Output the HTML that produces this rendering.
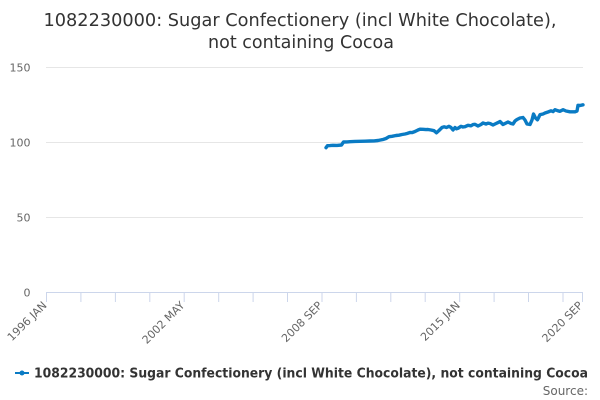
<!DOCTYPE html>
<html><head><meta charset="utf-8"><style>
html,body{margin:0;padding:0;background:#fff;}
svg{display:block;font-family:"DejaVu Sans","Liberation Sans",sans-serif;}
</style></head><body>
<svg width="600" height="400" viewBox="0 0 600 400" xmlns="http://www.w3.org/2000/svg">
<rect width="600" height="400" fill="#fff"/>
<text x="300" y="26" text-anchor="middle" font-size="18" fill="#333" textLength="513" lengthAdjust="spacingAndGlyphs">1082230000: Sugar Confectionery (incl White Chocolate),</text>
<text x="301" y="48" text-anchor="middle" font-size="18" fill="#333" textLength="186" lengthAdjust="spacingAndGlyphs">not containing Cocoa</text>
<g stroke="#e6e6e6" stroke-width="1">
<line x1="46" y1="67.5" x2="583" y2="67.5"/>
<line x1="46" y1="142.5" x2="583" y2="142.5"/>
<line x1="46" y1="217.5" x2="583" y2="217.5"/>
</g>
<g font-size="11" fill="#666" text-anchor="end">
<text x="30.5" y="71.5">150</text>
<text x="30.5" y="146.5">100</text>
<text x="30.5" y="221.5">50</text>
<text x="30.5" y="296.5">0</text>
</g>
<line x1="46" y1="292.5" x2="583" y2="292.5" stroke="#ccd6eb" stroke-width="1"/>
<g stroke="#ccd6eb" stroke-width="1">
<line x1="46.5" y1="292" x2="46.5" y2="302"/>
<line x1="80.9" y1="292" x2="80.9" y2="302"/>
<line x1="115.4" y1="292" x2="115.4" y2="302"/>
<line x1="149.8" y1="292" x2="149.8" y2="302"/>
<line x1="184.2" y1="292" x2="184.2" y2="302"/>
<line x1="218.7" y1="292" x2="218.7" y2="302"/>
<line x1="253.1" y1="292" x2="253.1" y2="302"/>
<line x1="287.5" y1="292" x2="287.5" y2="302"/>
<line x1="322.0" y1="292" x2="322.0" y2="302"/>
<line x1="356.4" y1="292" x2="356.4" y2="302"/>
<line x1="390.8" y1="292" x2="390.8" y2="302"/>
<line x1="425.2" y1="292" x2="425.2" y2="302"/>
<line x1="459.7" y1="292" x2="459.7" y2="302"/>
<line x1="494.1" y1="292" x2="494.1" y2="302"/>
<line x1="528.5" y1="292" x2="528.5" y2="302"/>
<line x1="563.0" y1="292" x2="563.0" y2="302"/>
<line x1="582.5" y1="292" x2="582.5" y2="302"/>
</g>
<g font-size="11" fill="#666" text-anchor="end">
<text transform="translate(47.5,306) rotate(-45)">1996 JAN</text>
<text transform="translate(185.2,306) rotate(-45)">2002 MAY</text>
<text transform="translate(323,306) rotate(-45)">2008 SEP</text>
<text transform="translate(460.7,306) rotate(-45)">2015 JAN</text>
<text transform="translate(583.5,306) rotate(-45)">2020 SEP</text>
</g>
<polyline fill="none" stroke="#0a7bc4" stroke-width="3.4" stroke-linejoin="round" stroke-linecap="round" points="326,147.7 327.5,145.7 330,145.6 333,145.3 337,145.4 341.5,145 343.5,142 347,141.9 350,141.7 355,141.4 360,141.3 365,141.2 370,141 374,140.9 378,140.5 383,139.5 386,138.5 389,136.7 392,136.3 396,135.5 399,135.2 402,134.5 405,134 407,133.5 410,132.5 412,132.6 415,131.5 418,130 420,129.2 423,129.3 426,129.6 428,129.5 431,130 434,130.7 436.5,132.8 439,130.5 442,127.5 444,126.8 446.5,127.5 449,126.3 451,127.5 453,130 455,127.5 456.5,128.8 458,128.3 461,126.3 463,127 465,126.7 468,125.3 471,125.8 473,124.6 475,124.3 478,126 481,124.5 483,123 486,124 488,123.2 490,123.5 493,125 495,124 498,122.6 500,121.5 503,124.5 506,123 508,122 511,123.5 513,124 515,121 517,119.5 520,118 523,117.5 525,120 527,124 530,124.5 532,120 533.5,114 535.5,118 537.5,119.8 540,114.7 543,114 545,113 548,112 551,110.8 553,111.6 555,109.7 558,110.8 560,111.3 563,109.7 566,111 570,111.8 575,111.8 577,111 578,105.3 580,105.5 583,104.8"/>
<line x1="15" y1="373" x2="29" y2="373" stroke="#0a7bc4" stroke-width="2"/>
<circle cx="22" cy="373" r="2.5" fill="#0a7bc4"/>
<text x="34" y="377.5" font-size="13" font-weight="bold" fill="#333" textLength="554" lengthAdjust="spacingAndGlyphs">1082230000: Sugar Confectionery (incl White Chocolate), not containing Cocoa</text>
<text x="588" y="395" font-size="12" fill="#666" text-anchor="end">Source:</text>
</svg>
</body></html>
